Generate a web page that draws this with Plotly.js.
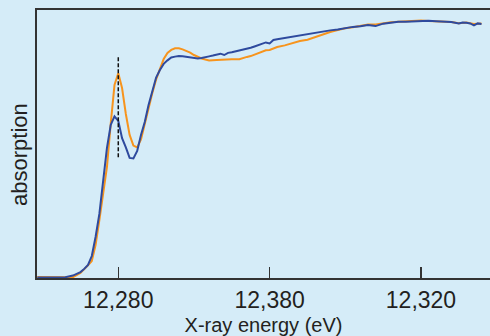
<!DOCTYPE html>
<html>
<head>
<meta charset="utf-8">
<script src="https://cdn.plot.ly/plotly-3.0.1.min.js"></script>
<style>html,body{margin:0;padding:0;background:#d5ecf8;}#chart{width:490px;height:336px;}</style>
</head>
<body>
<div id="chart"></div>
<script>
// X-ray energy (eV) and absorption (arbitrary units)
const orangeEnergy = [12269.3,12271,12273,12274,12275,12275.5,12276,12276.5,12277,12277.5,12278,12278.5,12279,12279.5,12280,12280.5,12281,12281.5,12282,12282.5,12283,12283.5,12284,12284.5,12285,12285.5,12286,12286.5,12287,12287.5,12288,12288.5,12289,12289.5,12290,12290.5,12291,12291.5,12292,12293,12294,12295,12296,12296.5,12297,12297.5,12298,12298.5,12299,12299.5,12300,12301,12302,12303,12304,12305,12306,12307,12308,12309,12310,12311,12312,12313,12314,12315,12316,12317,12318,12319,12320,12321,12322,12323,12324,12325,12326,12327,12328];
const orangeAbs = [0.004,0.004,0.004,0.003,0.019,0.032,0.047,0.063,0.123,0.216,0.317,0.414,0.575,0.720,0.764,0.709,0.612,0.534,0.494,0.487,0.517,0.575,0.642,0.690,0.741,0.780,0.817,0.840,0.851,0.857,0.857,0.853,0.847,0.841,0.832,0.825,0.819,0.815,0.812,0.813,0.815,0.816,0.816,0.822,0.825,0.828,0.834,0.838,0.843,0.850,0.851,0.862,0.868,0.876,0.884,0.889,0.899,0.908,0.918,0.925,0.932,0.936,0.940,0.946,0.946,0.951,0.954,0.956,0.957,0.958,0.961,0.959,0.958,0.956,0.955,0.951,0.953,0.948,0.950];

const blueEnergy = [12269.3,12271,12273,12274,12275,12275.5,12276,12276.5,12277,12277.5,12278,12278.5,12279,12279.5,12280,12280.5,12281,12281.5,12282,12282.5,12283,12283.5,12284,12284.5,12285,12285.5,12286,12286.5,12287,12287.5,12288,12288.5,12289,12289.5,12290,12290.5,12291,12291.5,12292,12292.5,12293,12293.5,12294,12294.5,12295,12295.5,12296,12296.5,12297,12297.5,12298,12298.5,12299,12299.5,12300,12300.5,12301,12302,12303,12304,12305,12306,12307,12308,12309,12310,12311,12312,12313,12313.5,12314,12315,12316,12317,12318,12319,12320,12321,12322,12323,12324,12325,12325.5,12326,12326.5,12327,12327.5,12328];
const blueAbs = [0.002,0.002,0.003,0.009,0.022,0.034,0.049,0.082,0.153,0.239,0.354,0.485,0.571,0.603,0.586,0.522,0.487,0.448,0.446,0.474,0.534,0.582,0.646,0.701,0.748,0.776,0.799,0.812,0.823,0.826,0.828,0.827,0.825,0.824,0.821,0.819,0.821,0.823,0.827,0.830,0.834,0.837,0.832,0.840,0.842,0.845,0.848,0.851,0.855,0.859,0.864,0.869,0.873,0.879,0.875,0.888,0.891,0.896,0.901,0.906,0.909,0.915,0.920,0.924,0.927,0.933,0.937,0.939,0.944,0.942,0.940,0.949,0.953,0.956,0.956,0.957,0.959,0.960,0.958,0.957,0.955,0.950,0.953,0.952,0.950,0.943,0.950,0.948];

// dashed marker at the pre-edge peak
const markerEnergy = [12280, 12280];
const markerAbs = [0.451, 0.825];

const tickValues = [12280, 12300, 12320];
const tickLabels = ["12,280", "12,380", "12,320"];

const traces = [
  {x: orangeEnergy, y: orangeAbs, type: 'scatter', mode: 'lines', line: {color: '#f7941d', width: 2}, hoverinfo: 'skip'},
  {x: blueEnergy, y: blueAbs, type: 'scatter', mode: 'lines', line: {color: '#2e4a9e', width: 2}, hoverinfo: 'skip'},
  {x: markerEnergy, y: markerAbs, type: 'scatter', mode: 'lines', line: {color: '#111', width: 1.5, dash: '4px,2px'}, hoverinfo: 'skip'}
];

const layout = {
  width: 490, height: 336,
  paper_bgcolor: '#d5ecf8', plot_bgcolor: '#d5ecf8',
  margin: {l: 37, r: 0, t: 10, b: 58},
  showlegend: false,
  font: {family: '"Liberation Sans", Arial, sans-serif', color: '#231f20'},
  xaxis: {
    range: [12269.26, 12329.12], autorange: false,
    showline: true, linecolor: '#333', linewidth: 2, mirror: true,
    ticks: 'inside', ticklen: 11, tickwidth: 1.5, tickcolor: '#333',
    tickvals: tickValues, ticktext: tickLabels,
    tickfont: {size: 23, color: '#231f20'},
    showgrid: false, zeroline: false,
    title: {text: 'X-ray energy (eV)', font: {size: 20, color: '#231f20'}, standoff: 6}
  },
  yaxis: {
    range: [0, 1], autorange: false,
    showline: true, linecolor: '#333', linewidth: 2,
    ticks: '', showticklabels: false, showgrid: false, zeroline: false
  },
  annotations: [{
    text: 'absorption', xref: 'paper', yref: 'paper',
    x: -17 / 453, y: 0.459, xanchor: 'center', yanchor: 'middle',
    textangle: -90, showarrow: false,
    font: {size: 22, color: '#231f20'}
  }]
};

Plotly.newPlot('chart', traces, layout, {displayModeBar: false, staticPlot: true});
</script>
</body>
</html>
